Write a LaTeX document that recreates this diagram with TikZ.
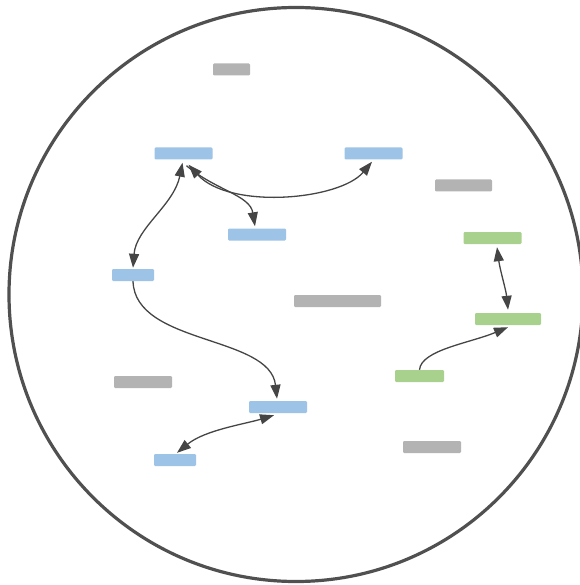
\documentclass[tikz,border=0pt]{standalone}
\usetikzlibrary{arrows.meta}
\definecolor{barblue}{HTML}{9DC3E6}
\definecolor{bargreen}{HTML}{A9D18E}
\definecolor{bargray}{HTML}{B3B3B3}
\definecolor{ringcol}{HTML}{505050}
\definecolor{linkcol}{HTML}{454545}
\tikzset{
  bar/.style={rectangle, rounded corners=1.2pt, inner sep=0pt, minimum height=12pt, draw=none},
  bluebar/.style={bar, fill=barblue},
  greenbar/.style={bar, fill=bargreen},
  graybar/.style={bar, fill=bargray},
  tip/.tip={Triangle[length=14pt,width=10pt]},
  link/.style={draw=linkcol, line width=1.3pt, tip-tip},
  onelink/.style={draw=linkcol, line width=1.3pt, -tip},
}
\begin{document}
\begin{tikzpicture}[x=1pt,y=-1pt]
\useasboundingbox (0,0) rectangle (579,585);
\node[draw=ringcol, line width=3.2pt, circle, minimum size=574pt, inner sep=0pt] (ring) at (296,294.5) {};
% gray bars
\node[graybar, minimum width=37pt] (g1) at (231.5,69.5) {};
\node[graybar, minimum width=57pt] (g2) at (463.5,185.5) {};
\node[graybar, minimum width=87pt] (g3) at (337.5,301) {};
\node[graybar, minimum width=58pt] (g4) at (143,382) {};
\node[graybar, minimum width=58pt] (g5) at (432,447) {};
% blue bars
\node[bluebar, minimum width=58pt] (A) at (183.5,153.5) {};
\node[bluebar, minimum width=58pt] (B) at (373.5,153.5) {};
\node[bluebar, minimum width=58pt] (C) at (257,234.5) {};
\node[bluebar, minimum width=42pt] (D) at (133,275) {};
\node[bluebar, minimum width=58pt] (E) at (278,407) {};
\node[bluebar, minimum width=42pt] (F) at (175,460) {};
% green bars
\node[greenbar, minimum width=58pt] (G1) at (492.5,238) {};
\node[greenbar, minimum width=66pt] (G2) at (508,319) {};
\node[greenbar, minimum width=49pt] (G3) at (419.5,376) {};
% connectors
\draw[link] ([xshift=-1pt,yshift=-3pt]A.south) .. controls (174,205) and (136,228) .. ([yshift=1pt]D.north);
\draw[link] ([xshift=5pt,yshift=-5pt]A.south) .. controls (230,210) and (340,200) .. ([xshift=-1.5pt,yshift=-2pt]B.south);
\draw[onelink] ([xshift=3pt,yshift=-6pt]A.south) .. controls (215,190) and (250,195) .. ([xshift=-2pt,yshift=2pt]C.north);
\draw[onelink] (D.south) .. controls (135,345) and (270,335) .. ([xshift=-1pt,yshift=2pt]E.north);
\draw[link] ([xshift=-4pt,yshift=-2pt]E.south) .. controls (245,424) and (205,430) .. ([xshift=2pt,yshift=1pt]F.north);
\draw[link] ([xshift=4.5pt,yshift=-3pt]G1.south) .. controls (500,270) and (506,290) .. ([xshift=0pt,yshift=3pt]G2.north);
\draw[onelink] (G3.north) .. controls (421,350) and (470,343) .. ([xshift=0pt,yshift=-2pt]G2.south);
\end{tikzpicture}
\end{document}
